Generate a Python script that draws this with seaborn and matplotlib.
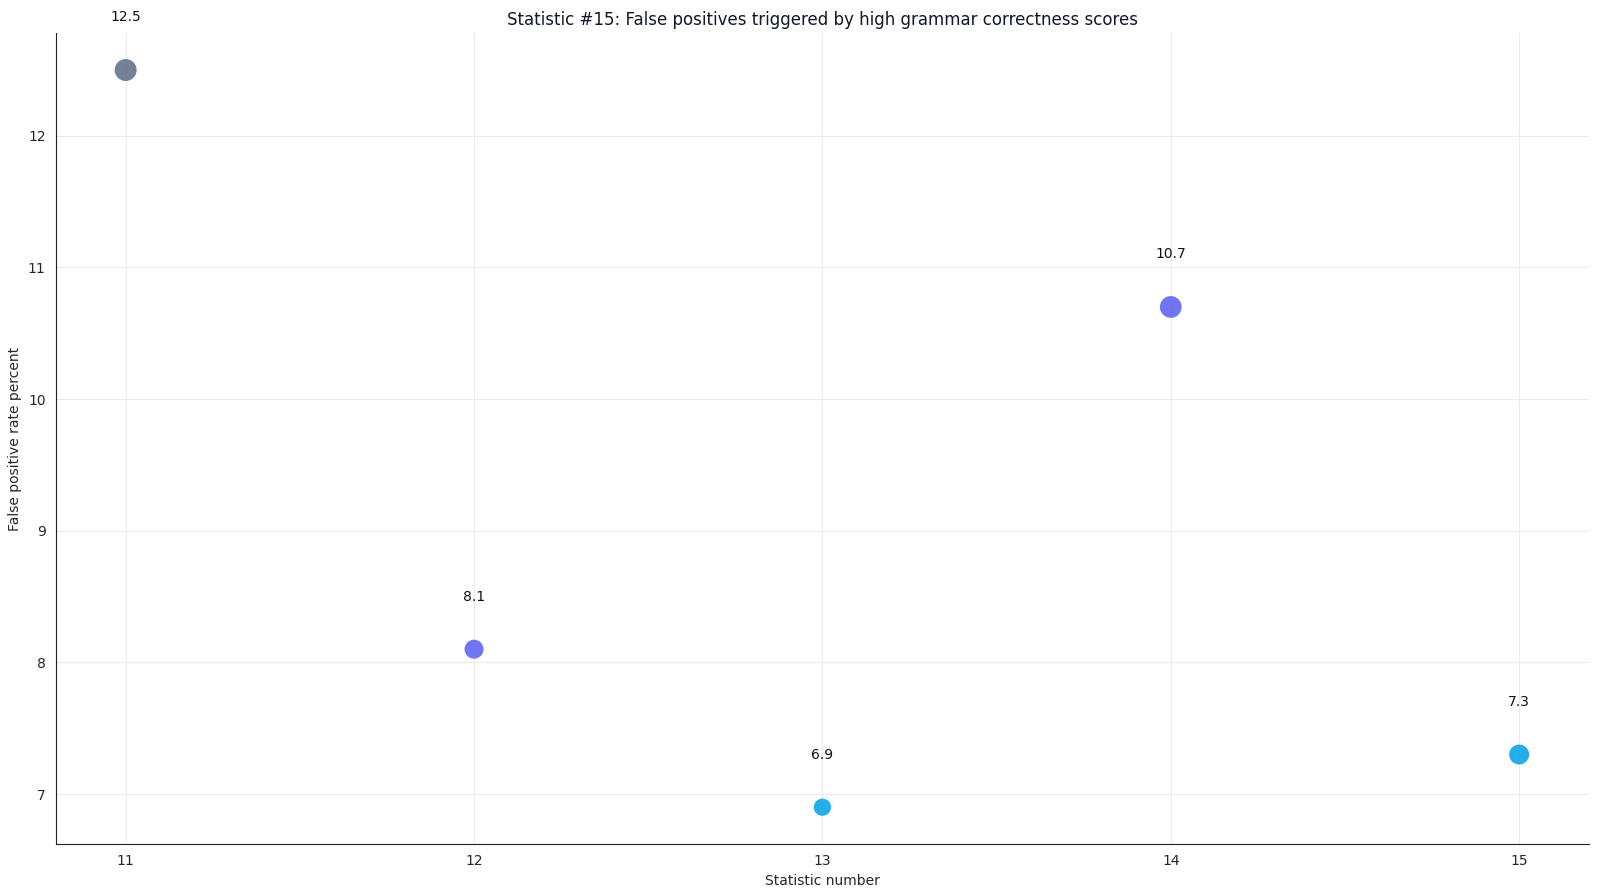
import matplotlib
matplotlib.use("Agg")
import matplotlib.pyplot as plt
import seaborn as sns
import pandas as pd

# data
stat_numbers = [11, 12, 13, 14, 15]
fp_rates = [12.5, 8.1, 6.9, 10.7, 7.3]
point_groups = ["a", "b", "c", "b", "c"]
point_sizes = [250, 187, 155, 245, 207]
group_colors = {"a": "#64748b", "b": "#6366f1", "c": "#0ea5e9"}

df = pd.DataFrame({
    "Statistic number": stat_numbers,
    "False positive rate percent": fp_rates,
    "group": point_groups,
    "size": point_sizes,
})

sns.set_style("white")
plt.rcParams['font.family'] = ['DejaVu Sans']

fig, ax = plt.subplots(figsize=(16, 8.96), dpi=100)
fig.subplots_adjust(left=0.035, right=0.993, top=0.963, bottom=0.058)

sns.scatterplot(data=df, x="Statistic number", y="False positive rate percent",
                hue="group", palette=group_colors, size="size",
                sizes={v: v for v in point_sizes},
                alpha=0.9, edgecolor="none", legend=False, ax=ax, zorder=3)

for x, y in zip(stat_numbers, fp_rates):
    ax.text(x, y + 0.4, f"{y}", ha="center", va="center", fontsize=10, color="#111111")

ax.set_xticks(stat_numbers)
ax.grid(True, color="#ebebeb", linewidth=0.8)
ax.set_axisbelow(True)
sns.despine(ax=ax)
for s in ["left", "bottom"]:
    ax.spines[s].set_color("#222222")
ax.tick_params(axis="both", labelsize=10, length=4, color="#222222")
ax.set_xlabel("Statistic number", fontsize=10)
ax.set_ylabel("False positive rate percent", fontsize=10)
ax.set_title("Statistic #15: False positives triggered by high grammar correctness scores",
             fontsize=12, color="#111827")

fig.savefig("out.png", dpi=100)
